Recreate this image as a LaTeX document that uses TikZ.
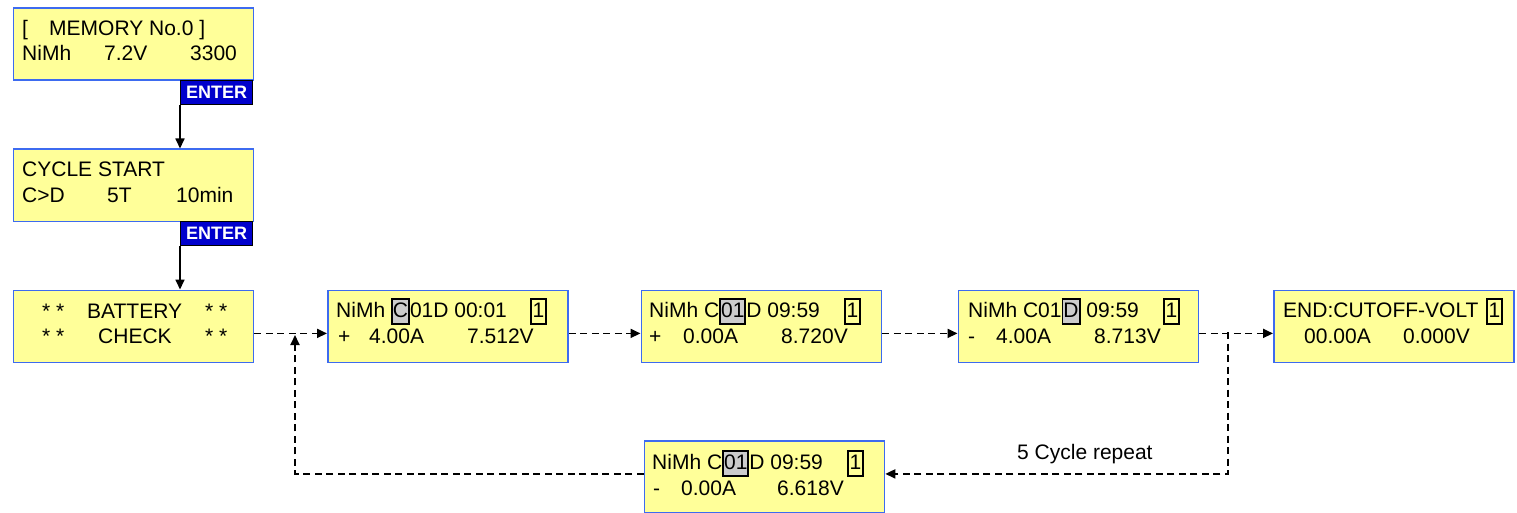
\documentclass[tikz,border=0pt]{standalone}
\usepackage{fontspec}
\setmainfont{Liberation Sans}
\usetikzlibrary{arrows.meta}
\definecolor{lcdfill}{HTML}{FFFF99}
\definecolor{lcdedge}{HTML}{3D6BF0}
\definecolor{hlgray}{HTML}{CCCCCC}
\definecolor{enterblue}{HTML}{0000CC}
\newcommand{\grbox}[1]{{\setlength{\fboxsep}{0pt}\setlength{\fboxrule}{1.9pt}\fcolorbox{black}{hlgray}{\rule[-6pt]{0pt}{23pt}#1}}}
\newcommand{\olbox}[1]{{\setlength{\fboxsep}{0pt}\setlength{\fboxrule}{1.9pt}\fbox{\rule[-6pt]{0pt}{23pt}\hspace{0.5pt}#1\hspace{0.5pt}}}}
\begin{document}
\begin{tikzpicture}[x=1pt,y=-1pt,
  lcd/.style={draw=lcdedge, line width=1.8pt, fill=lcdfill, anchor=north west,
    minimum width=240pt, minimum height=72pt, inner sep=0pt},
  enter/.style={draw=black, line width=1.4pt, fill=enterblue, anchor=north west,
    minimum width=72pt, minimum height=24pt, inner sep=0pt, text=white,
    font=\fontsize{18}{20}\selectfont\bfseries},
  t/.style={anchor=base west, inner sep=0pt, font=\fontsize{21}{25}\selectfont},
  solidarrow/.style={line width=1.7pt, -{Triangle[length=10pt,width=9pt]}},
  dashline/.style={line width=1.8pt, dash pattern=on 7pt off 4.5pt},
  dasharrow/.style={dashline, -{Triangle[length=10pt,width=9pt]}}]
\useasboundingbox (0,0) rectangle (1517,513);

% boxes
\node[lcd] (b1) at (12.5,7.5) {};
\node[lcd] (b2) at (12.5,148.5) {};
\node[lcd] (b3) at (12.5,289.5) {};
\node[lcd] (b4) at (327,289.5) {};
\node[lcd] (b5) at (640.5,289.5) {};
\node[lcd] (b6) at (957.5,289.5) {};
\node[lcd] (b7) at (1273,289.5) {};
\node[lcd] (b8) at (643.5,440) {};

% enter tags
\node[enter] (e1) at (180,80) {ENTER};
\node[enter] (e2) at (180,221) {ENTER};

% box 1 text
\node[t] (b1a) at (22,36) {[};
\node[t] (b1b) at (49,36) {MEMORY No.0 ]};
\node[t] (b1c) at (22,61) {NiMh};
\node[t] (b1d) at (104,61) {7.2V};
\node[t] (b1e) at (190,61) {3300};

% box 2 text
\node[t] (b2a) at (22,177) {CYCLE START};
\node[t] (b2b) at (22,202) {C>D};
\node[t] (b2c) at (107,202) {5T};
\node[t] (b2d) at (176,202) {10min};

% box 3 text
\node[t] (b3a) at (42,318) {* *};
\node[t] (b3b) at (87,318) {BATTERY};
\node[t] (b3c) at (205,318) {* *};
\node[t] (b3d) at (42,343) {* *};
\node[t] (b3e) at (98,343) {CHECK};
\node[t] (b3f) at (205,343) {* *};

% box 4 text
\node[t] (b4a) at (336,317) {NiMh \grbox{C}01D 00:01};
\node[t] (b4b) at (530,317) {\olbox{1}};
\node[t] (b4c) at (338,343) {+};
\node[t] (b4d) at (369,343) {4.00A};
\node[t] (b4e) at (467,343) {7.512V};

% box 5 text
\node[t] (b5a) at (649,317) {NiMh C\grbox{01}D 09:59};
\node[t] (b5b) at (844,317) {\olbox{1}};
\node[t] (b5c) at (649,343) {+};
\node[t] (b5d) at (683,343) {0.00A};
\node[t] (b5e) at (781,343) {8.720V};

% box 6 text
\node[t] (b6a) at (968,317) {NiMh C01\grbox{D} 09:59};
\node[t] (b6b) at (1163,317) {\olbox{1}};
\node[t] (b6c) at (968,343) {-};
\node[t] (b6d) at (996,343) {4.00A};
\node[t] (b6e) at (1094,343) {8.713V};

% box 7 text
\node[t] (b7a) at (1283,317) {END:CUTOFF-VOLT};
\node[t] (b7b) at (1486,317) {\olbox{1}};
\node[t] (b7c) at (1304,343) {00.00A};
\node[t] (b7d) at (1403,343) {0.000V};

% box 8 text
\node[t] (b8a) at (652,469) {NiMh C\grbox{01}D 09:59};
\node[t] (b8b) at (847,469) {\olbox{1}};
\node[t] (b8c) at (653,495) {-};
\node[t] (b8d) at (681,495) {0.00A};
\node[t] (b8e) at (777,495) {6.618V};

% label
\node[t] (rep) at (1017,459) {5 Cycle repeat};

% solid arrows
\draw[solidarrow] (e1.south west) -- (e1.south west |- b2.north);
\draw[solidarrow] (e2.south west) -- (e2.south west |- b3.north);

% dashed chain
\draw[dasharrow] ([yshift=-7pt]b3.east) -- ([yshift=-7pt]b4.west);
\draw[dasharrow] ([yshift=-7pt]b4.east) -- ([yshift=-7pt]b5.west);
\draw[dasharrow] ([yshift=-7pt]b5.east) -- ([yshift=-7pt]b6.west);
\draw[dasharrow] ([yshift=-7pt]b6.east) -- ([yshift=-7pt]b7.west);

% loop back
\coordinate (split) at (1228,332);
\coordinate (fbtop) at (295,335);
\draw[dasharrow] (split) |- ([yshift=3pt]b8.east);
\draw[dasharrow] ([yshift=3pt]b8.west) -| (fbtop);
\end{tikzpicture}
\end{document}
